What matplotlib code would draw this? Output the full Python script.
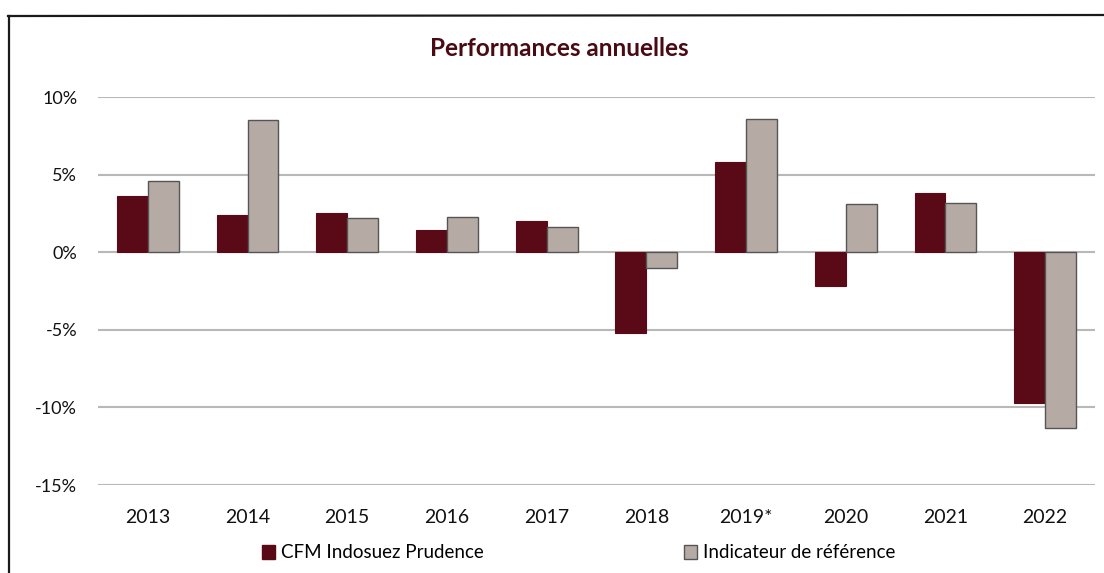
import numpy as np
import matplotlib
matplotlib.use("Agg")
import matplotlib.pyplot as plt
from matplotlib.lines import Line2D
from matplotlib.patches import Patch

plt.rcParams["font.family"] = ["Lato", "DejaVu Sans"]

years = ["2013", "2014", "2015", "2016", "2017", "2018", "2019*", "2020", "2021", "2022"]
fund = [3.6, 2.4, 2.5, 1.4, 2.0, -5.2, 5.8, -2.2, 3.8, -9.7]
bench = [4.6, 8.5, 2.2, 2.3, 1.6, -1.0, 8.6, 3.1, 3.2, -11.3]
yticks = [-15, -10, -5, 0, 5, 10]

maroon = "#5a0a16"
beige = "#b6aba4"

W, H = 1104, 573
fig = plt.figure(figsize=(W / 100, H / 100), dpi=100)
ax = fig.add_axes([98 / W, 1 - 485 / H, (1095 - 98) / W, (485 - 97) / H])

x = np.arange(len(years))
bw = 0.31
ax.bar(x - bw / 2, fund, bw, color=maroon, edgecolor=maroon, linewidth=0.8, zorder=3)
ax.bar(x + bw / 2, bench, bw, color=beige, edgecolor="#555555", linewidth=1.0, zorder=3)

ax.set_xlim(-0.5, len(years) - 0.5)
ax.set_ylim(-15, 10)
ax.set_yticks(yticks)
ax.set_yticklabels([f"{v}%" for v in yticks])
ax.set_xticks(x)
ax.set_xticklabels(years)
ax.grid(axis="y", color="#b8b8b8", linewidth=1.5, zorder=0)
ax.tick_params(axis="both", length=0, labelsize=13, colors="#111111")
ax.tick_params(axis="x", pad=17, labelsize=14)
ax.tick_params(axis="y", pad=15)
for s in ax.spines.values():
    s.set_visible(False)

fig.text(0.5 * (430 + 688) / W, 1 - 48 / H, "Performances annuelles", ha="center",
         va="center", fontsize=17.5, fontweight="bold", color="#4a0a14")

labels = ["CFM Indosuez Prudence", "Indicateur de référence"]
handles = [Patch(facecolor=maroon, edgecolor=maroon),
           Patch(facecolor=beige, edgecolor="#555555")]
for h, lab, lx in zip(handles, labels, [262, 684]):
    leg = fig.legend([h], [lab], loc="center left", bbox_to_anchor=(lx / W, 1 - 553 / H),
                     frameon=False, fontsize=13.5, handlelength=0.7, handleheight=0.7,
                     handletextpad=0.3, borderpad=0, borderaxespad=0)

# scanned page frame
fig.add_artist(Line2D([8.5 / W, 8.5 / W], [0, 1 - 16 / H], color="#1a1a1a", lw=1.6))
fig.add_artist(Line2D([8 / W, 1], [1 - 16 / H, 1 - 15 / H], color="#1a1a1a", lw=1.6))

fig.savefig("out.png", dpi=100)
